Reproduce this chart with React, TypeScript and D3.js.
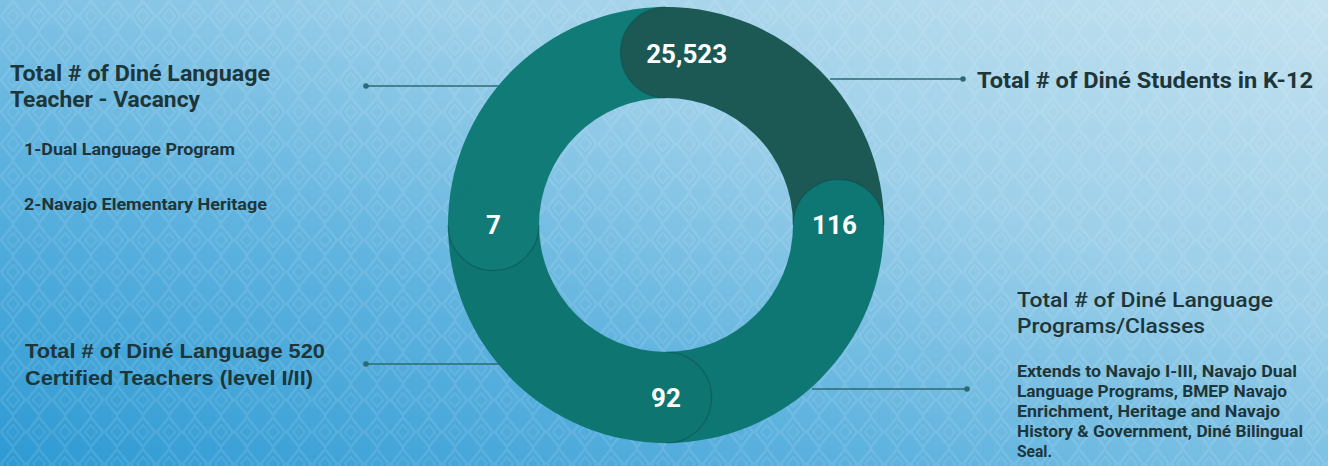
import React from 'react';
import * as d3 from 'd3';

// Figures shown on the ring, clockwise from 12 o'clock
const values = [25523, 116, 92, 7];
const segmentColors = ['#1c5955', '#0e7773', '#0e7571', '#107b77'];

// Callout texts
const studentsTitle = 'Total # of Diné Students in K-12';
const vacancyTitle = ['Total # of Diné Language', 'Teacher - Vacancy'];
const vacancyItems = ['1-Dual Language Program', '2-Navajo Elementary Heritage'];
const certifiedTitle = ['Total # of Diné Language 520', 'Certified Teachers (level I/II)'];
const programsTitle = ['Total # of Diné Language', 'Programs/Classes'];
const programsNotes = [
  'Extends to Navajo I-III, Navajo Dual',
  'Language Programs, BMEP Navajo',
  'Enrichment, Heritage and Navajo',
  'History & Government, Diné Bilingual',
  'Seal.',
];

// measured text widths (layout)
const vacancyTitleW = [260, 190];
const vacancyItemsW = [211, 243];
const certifiedTitleW = [300, 288];
const programsTitleW = [256, 188];
const programsNotesW = [280, 270, 263, 286, 35];

const width = 1328;
const height = 466;

const App: React.FC = () => {
  const cx = 666;
  const cy = 225;
  const outerR = 218;
  const innerR = 127;
  const midR = (outerR + innerR) / 2;
  const capR = (outerR - innerR) / 2;

  // every part of the infographic ring takes a quarter
  const pie = d3.pie<number>().value(() => 1).sort(null);
  const slices = pie(values);

  const arc = d3.arc<d3.PieArcDatum<number>>().innerRadius(innerR).outerRadius(outerR);
  const fmt = d3.format(',');

  const polar = (a: number, r: number) => [Math.sin(a) * r, -Math.cos(a) * r];

  const capEdge = (a: number) =>
    d3.arc()({ innerRadius: capR, outerRadius: capR, startAngle: a - Math.PI, endAngle: a } as any) as string;

  const textDark = '#1d363a';
  const lineColor = '#2b6b72';

  return (
    <svg width={width} height={height} style={{ position: 'absolute', left: 0, top: 0 }}>
      <defs>
        <linearGradient id="bg" x1="0" y1="1" x2="1" y2="0">
          <stop offset="0%" stopColor="#2e9ad3" />
          <stop offset="35%" stopColor="#5fb3df" />
          <stop offset="65%" stopColor="#9ccfe9" />
          <stop offset="100%" stopColor="#c4e2ef" />
        </linearGradient>
        <pattern id="diamonds" width="26" height="32" patternUnits="userSpaceOnUse">
          <path d="M13,1 L25,16 L13,31 L1,16 Z" fill="none" stroke="#ffffff" strokeWidth="2.4" />
          <path d="M13,9 L19,16 L13,23 L7,16 Z" fill="none" stroke="#ffffff" strokeWidth="1.6" />
        </pattern>
      </defs>
      <rect width={width} height={height} fill="url(#bg)" />
      <rect width={width} height={height} fill="url(#diamonds)" opacity={0.1} />

      {/* connector lines */}
      <g stroke={lineColor} strokeWidth={1.3} fill={lineColor}>
        <line x1={366} y1={86} x2={500} y2={86} />
        <circle cx={366} cy={86} r={2.8} stroke="none" />
        <line x1={830} y1={79} x2={963} y2={79} />
        <circle cx={963} cy={79} r={2.8} stroke="none" />
        <line x1={366} y1={364} x2={500} y2={364} />
        <circle cx={366} cy={364} r={2.8} stroke="none" />
        <line x1={812} y1={389} x2={967} y2={389} />
        <circle cx={967} cy={389} r={2.8} stroke="none" />
      </g>

      <g transform={`translate(${cx},${cy})`}>
        {slices.map((s, i) => (
          <path key={`a${i}`} d={arc(s) as string} fill={segmentColors[i]} />
        ))}
        {slices.map((s, i) => {
          const [x, y] = polar(s.startAngle, midR);
          return (
            <g key={`c${i}`} transform={`translate(${x},${y})`}>
              <circle r={capR} fill={segmentColors[i]} />
              <path d={capEdge(s.startAngle)} fill="none" stroke="#0b3c3a" strokeOpacity={0.3} strokeWidth={1.4} />
            </g>
          );
        })}
        {slices.map((s, i) => {
          const [x, y] = polar(s.startAngle + (i === 0 ? 0.12 : 0), midR);
          return (
            <text
              key={`t${i}`}
              x={x - (i === 1 ? 4 : 0)}
              y={y}
              dy="0.36em"
              textAnchor="middle"
              fill="#ffffff"
              fontFamily="Roboto, sans-serif"
              fontWeight={700}
              fontSize={26}
            >
              {fmt(s.data)}
            </text>
          );
        })}
      </g>

      {/* left column */}
      <g fontFamily="Roboto, sans-serif" fontWeight={700} fill={textDark}>
        {vacancyTitle.map((t, i) => (
          <text key={t} x={10} y={81 + i * 26} fontSize={22} textLength={vacancyTitleW[i]} lengthAdjust="spacingAndGlyphs">{t}</text>
        ))}
        {vacancyItems.map((t, i) => (
          <text key={t} x={24} y={155 + i * 55} fontSize={16.5} textLength={vacancyItemsW[i]} lengthAdjust="spacingAndGlyphs">{t}</text>
        ))}
      </g>
      <g fontFamily="'Liberation Sans', Arial, sans-serif" fontWeight={700} fill={textDark}>
        {certifiedTitle.map((t, i) => (
          <text key={t} x={25} y={358 + i * 27} fontSize={20.5} textLength={certifiedTitleW[i]} lengthAdjust="spacingAndGlyphs">{t}</text>
        ))}
      </g>

      {/* right column */}
      <g fontFamily="Roboto, sans-serif" fontWeight={700} fill={textDark}>
        <text x={977} y={88} fontSize={22} textLength={336} lengthAdjust="spacingAndGlyphs">{studentsTitle}</text>
        {programsTitle.map((t, i) => (
          <text key={t} x={1017} y={307 + i * 26} fontSize={21} fontWeight={500} textLength={programsTitleW[i]} lengthAdjust="spacingAndGlyphs">{t}</text>
        ))}
        {programsNotes.map((t, i) => (
          <text key={t} x={1017} y={377 + i * 20} fontSize={16} textLength={programsNotesW[i]} lengthAdjust="spacingAndGlyphs">{t}</text>
        ))}
      </g>
    </svg>
  );
};

export default App;
